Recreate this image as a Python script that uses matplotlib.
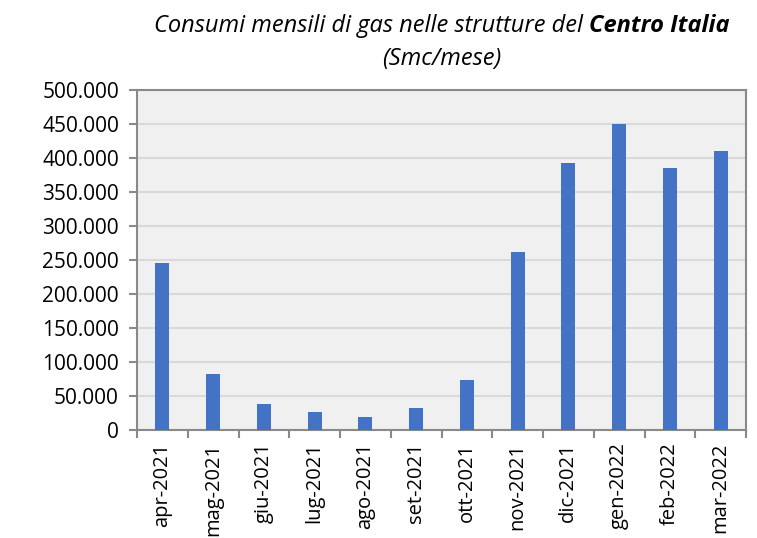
import matplotlib
matplotlib.use("Agg")
import matplotlib.pyplot as plt
import numpy as np
from matplotlib.ticker import FuncFormatter, FixedLocator

months = ["apr-2021", "mag-2021", "giu-2021", "lug-2021", "ago-2021", "set-2021",
          "ott-2021", "nov-2021", "dic-2021", "gen-2022", "feb-2022", "mar-2022"]
consumi = [246000, 82000, 38000, 26500, 19500, 33000, 73000, 262000, 393000, 450000, 385000, 410000]
yticks = list(range(0, 500001, 50000))

title_normal = "Consumi mensili di gas nelle strutture del "
title_bold = "Centro Italia"
subtitle = "(Smc/mese)"

plt.rcParams['font.family'] = ['Open Sans', 'DejaVu Sans']

fig = plt.figure(figsize=(7.57, 5.38), dpi=100)
ax = fig.add_axes([137/757, 1-430/538, (746-137)/757, (430-90)/538])
ax.set_facecolor("#F0F0F0")

x = np.arange(len(months))
ax.bar(x, consumi, width=0.28, color="#4472C4", zorder=3)

ax.set_xlim(-0.5, len(months)-0.5)
ax.set_ylim(0, 500000)
ax.yaxis.set_major_locator(FixedLocator(yticks))
ax.yaxis.set_major_formatter(FuncFormatter(lambda v, p: f"{int(v):,}".replace(",", ".")))
ax.grid(axis="y", color="#D9D9D9", linewidth=1.5, zorder=0)

ax.set_xticks(x)
ax.set_xticklabels(months, rotation=90, fontsize=14.5)
ax.set_xticks(np.arange(-0.5, len(months)), minor=True)
ax.tick_params(axis="x", which="major", length=0, pad=9)
ax.tick_params(axis="x", which="minor", length=6, width=1.5, color="#898989")
ax.tick_params(axis="y", length=6, width=1.5, color="#898989", labelsize=15, pad=7)

for s in ax.spines.values():
    s.set_color("#898989")
    s.set_linewidth(1.5)

# Title
fig.canvas.draw()
r = fig.canvas.get_renderer()
tfs = 17
t1 = fig.text(0, 0, title_normal, fontsize=tfs, style="italic")
t2 = fig.text(0, 0, title_bold, fontsize=tfs, style="italic", weight="bold")
w1 = t1.get_window_extent(r).width
w2 = t2.get_window_extent(r).width
total = w1 + w2
cx = 442
xs = cx - total/2
y1 = 1 - 26/538
t1.set_position((xs/757, y1))
t1.set_va("center")
t2.set_position(((xs+w1)/757, y1))
t2.set_va("center")
fig.text(cx/757, 1-59/538, subtitle, fontsize=tfs, style="italic", ha="center", va="center")

fig.savefig("out.png", dpi=100)
